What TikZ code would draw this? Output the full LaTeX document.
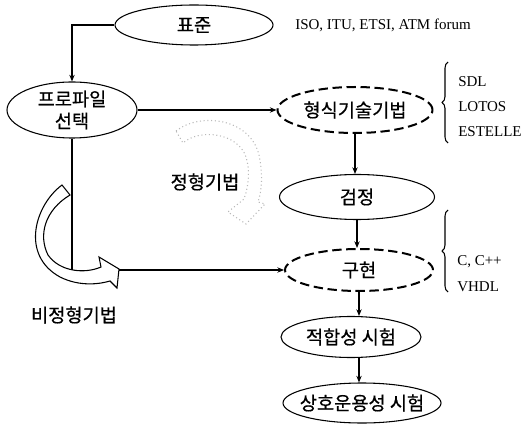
\documentclass[tikz,border=0pt]{standalone}
\usepackage{fontspec}
\setmainfont{Liberation Serif}
\newfontfamily\kr[FakeBold=0.6]{Noto Sans CJK KR}
\usetikzlibrary{arrows.meta,positioning,shapes.geometric,decorations.pathreplacing}

\tikzset{
  stage/.style={draw=black,ellipse,inner sep=0pt,line width=0.8pt},
  method/.style={stage,line width=1.5pt,dash pattern=on 7pt off 3.5pt},
  ktext/.style={font=\kr\fontsize{14}{16.5}\selectfont,align=center},
  lang/.style={font=\fontsize{11.25}{13}\selectfont,anchor=west,inner sep=0pt},
  flow/.style={-{Stealth[length=5pt,width=4pt]},line width=0.8pt},
  bracket/.style={decorate,decoration={brace,amplitude=4.5pt},line width=0.8pt},
}

\begin{document}
\begin{tikzpicture}[x=0.75pt,y=-0.75pt]
\useasboundingbox (0,0) rectangle (523,427);

\node[stage,minimum width=118.5pt,minimum height=30pt,label={[ktext]center:표준}] (std) at (194,25) {};
\node[lang] (org) at (295,25) {ISO, ITU, ETSI, ATM forum};

\node[stage,minimum width=97.5pt,minimum height=42pt,label={[ktext]center:프로파일\\선택}] (profile) at (72,110) {};

\node[method,minimum width=116.25pt,minimum height=34.5pt,label={[ktext]center:형식기술기법}] (formal) at (355,110) {};
\node[stage,minimum width=116.25pt,minimum height=33.75pt,label={[ktext]center:검정}] (verify) at (357,197) {};
\node[method,minimum width=111pt,minimum height=31.5pt,label={[ktext]center:구현}] (impl) at (359,270) {};
\node[stage,minimum width=105pt,minimum height=30.75pt,label={[ktext]center:적합성 시험}] (conf) at (351,337) {};
\node[stage,minimum width=118.5pt,minimum height=30pt,label={[ktext]center:상호운용성 시험}] (interop) at (362,403) {};

% languages beside the braces
\node[lang] (sdl) at (458,82) {SDL};
\node[lang] (lotos) at (458,107) {LOTOS};
\node[lang] (estelle) at (458,132) {ESTELLE};
\node[lang] (cpp) at (457,262) {C, C++};
\node[lang] (vhdl) at (457,287) {VHDL};
\draw[bracket] (448,143) -- (448,62);
\draw[bracket] (448,292) -- (448,210);

\node[ktext] (formlbl) at (205,182) {정형기법};
\node[ktext] (informlbl) at (74,315) {비정형기법};

% connectors
\draw[flow] (std.west) -| (profile.north);
\draw[flow,line width=1.3pt] (profile.east) -- (formal.west);
\draw[flow] (formal.south) -- (formal.south |- verify.north);
\draw[flow] (verify.south) -- (verify.south |- impl.north);
\draw[flow] (impl.south) -- (impl.south |- conf.north);
\draw[flow] (impl.south |- conf.south) -- (impl.south |- interop.north);

\coordinate (hook) at (119,270);
\draw[line width=0.8pt] (profile.south) -- (profile.south |- hook);
\draw[flow] (hook) -- (impl.west);

% hollow bent arrow
\draw[line width=0.8pt] (62,185) .. controls (35,205) and (20,255) .. (60,277)
  .. controls (80,287) and (100,284) .. (110,281)
  -- (117,288) -- (119,269) -- (99,257) -- (101,267)
  .. controls (85,274) and (60,272) .. (48,255)
  .. controls (38,235) and (45,210) .. (70,195) -- cycle;

% faint dotted bent arrow
\draw[gray!55,dotted,line width=0.8pt] (176,131) .. controls (200,112) and (250,118) .. (259,155)
  .. controls (263,175) and (262,190) .. (258,202)
  -- (265,204) -- (246,224) -- (228,212) -- (244,199)
  .. controls (249,185) and (250,170) .. (246,157)
  .. controls (238,133) and (200,128) .. (183,143) -- cycle;
\end{tikzpicture}
\end{document}
